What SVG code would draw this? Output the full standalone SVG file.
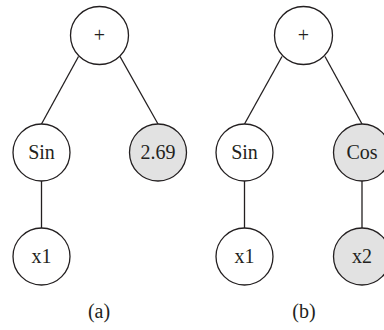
<svg xmlns="http://www.w3.org/2000/svg" width="384" height="330" viewBox="0 0 384 330">
<style>
.n{fill:#fff;stroke:#231f20;stroke-width:1.3}
.g{fill:#e2e2e2;stroke:#231f20;stroke-width:1.3}
.t{font-family:"Liberation Serif","Times New Roman",serif;font-size:20px;fill:#231f20;text-anchor:middle}
.e{stroke:#231f20;stroke-width:1.3;fill:none}
</style>
<rect width="384" height="330" fill="#fff"/>
<g id="connectors">
<line class="e" x1="78.5" y1="56.5" x2="41.5" y2="124"/>
<line class="e" x1="120" y1="56.5" x2="158" y2="124"/>
<line class="e" x1="41.5" y1="181" x2="41.5" y2="228"/>
<line class="e" x1="282" y1="56.5" x2="244.5" y2="124"/>
<line class="e" x1="325" y1="56.5" x2="362" y2="124"/>
<line class="e" x1="244.5" y1="181" x2="244.5" y2="228"/>
<line class="e" x1="362" y1="181" x2="362" y2="228"/>
</g>
<g id="a-plus"><circle class="n" cx="99.5" cy="35.5" r="29"/><text class="t" x="99.5" y="42">+</text></g>
<g id="a-sin"><circle class="n" cx="41.5" cy="152.5" r="28.5"/><text class="t" x="41.5" y="159">Sin</text></g>
<g id="a-const"><circle class="g" cx="158" cy="152.5" r="28.5"/><text class="t" x="158" y="159">2.69</text></g>
<g id="a-x1"><circle class="n" cx="41.5" cy="256.5" r="28.5"/><text class="t" x="41.5" y="263">x1</text></g>
<g id="b-plus"><circle class="n" cx="303.5" cy="35.5" r="29"/><text class="t" x="303.5" y="42">+</text></g>
<g id="b-sin"><circle class="n" cx="244.5" cy="152.5" r="28.5"/><text class="t" x="244.5" y="159">Sin</text></g>
<g id="b-cos"><circle class="g" cx="362" cy="152.5" r="28.5"/><text class="t" x="362" y="159">Cos</text></g>
<g id="b-x1"><circle class="n" cx="244.5" cy="256.5" r="28.5"/><text class="t" x="244.5" y="263">x1</text></g>
<g id="b-x2"><circle class="g" cx="362" cy="256.5" r="28.5"/><text class="t" x="362" y="263">x2</text></g>
<text class="t" x="99" y="318">(a)</text>
<text class="t" x="304" y="318">(b)</text>
</svg>
